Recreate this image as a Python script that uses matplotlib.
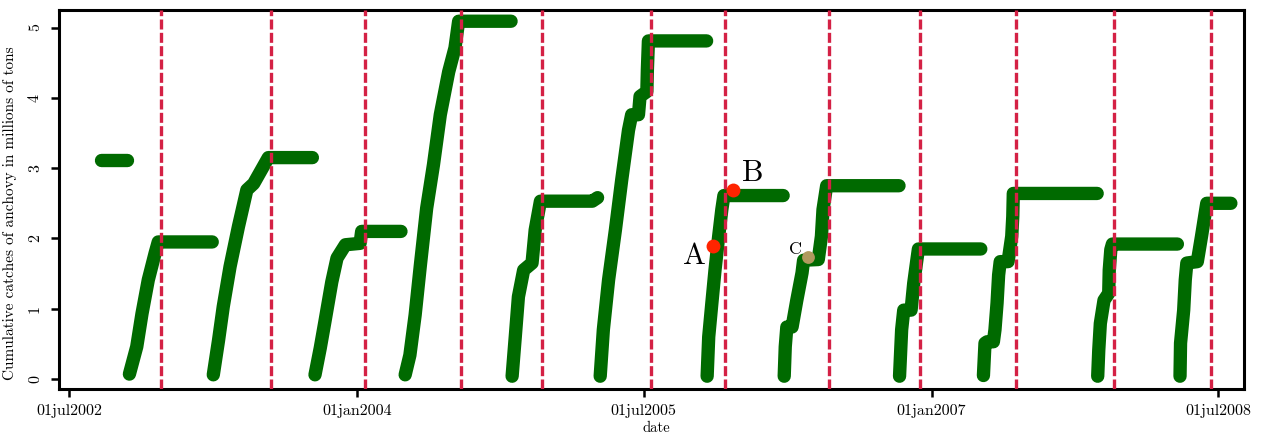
import matplotlib
matplotlib.use('Agg')
import matplotlib.pyplot as plt
import pandas as pd

plt.rcParams['font.family'] = ['cmr10', 'DejaVu Serif']
plt.rcParams['mathtext.fontset'] = 'cm'
plt.rcParams['axes.unicode_minus'] = False
plt.rcParams['axes.formatter.use_mathtext'] = True

# ---- cumulative catches per fishing season (millions of tons) ----
d1 = ["2002-08-31", "2002-10-19"]
v1 = [3.11, 3.11]

d2 = ["2002-10-24", "2002-11-07", "2002-11-17", "2002-11-29", "2002-12-12", "2002-12-18", "2003-03-31"]
v2 = [0.07, 0.46, 0.93, 1.41, 1.79, 1.95, 1.95]

d3 = ["2003-04-02", "2003-04-12", "2003-04-21", "2003-05-04", "2003-05-20", "2003-06-05", "2003-06-18",
      "2003-07-16", "2003-10-08"]
v3 = [0.06, 0.55, 1.03, 1.60, 2.17, 2.69, 2.78, 3.15, 3.15]

d4 = ["2003-10-13", "2003-10-23", "2003-11-01", "2003-11-14", "2003-11-24", "2003-12-10", "2004-01-07",
      "2004-01-10", "2004-03-25"]
v4 = [0.06, 0.44, 0.82, 1.38, 1.72, 1.91, 1.93, 2.10, 2.10]

d5 = ["2004-04-02", "2004-04-11", "2004-04-21", "2004-05-01", "2004-05-13", "2004-05-26", "2004-06-08",
      "2004-06-24", "2004-07-06", "2004-07-13", "2004-10-21"]
v5 = [0.06, 0.34, 0.91, 1.62, 2.43, 3.05, 3.76, 4.37, 4.71, 5.09, 5.09]

d6 = ["2004-10-23", "2004-10-29", "2004-11-04", "2004-11-14", "2004-11-30", "2004-12-06", "2004-12-16",
      "2005-03-25", "2005-04-04"]
v6 = [0.04, 0.60, 1.17, 1.55, 1.65, 2.12, 2.53, 2.53, 2.58]

d7 = ["2005-04-09", "2005-04-15", "2005-04-25", "2005-05-08", "2005-05-20", "2005-06-02", "2005-06-08",
      "2005-06-21", "2005-06-24", "2005-07-07", "2005-07-08", "2005-07-10", "2005-10-29"]
v7 = [0.04, 0.70, 1.41, 2.12, 2.83, 3.54, 3.76, 3.76, 4.02, 4.09, 4.40, 4.81, 4.81]

d8 = ["2005-10-30", "2005-11-02", "2005-11-08", "2005-11-14", "2005-11-21", "2005-11-27", "2005-12-01",
      "2006-03-24"]
v8 = [0.04, 0.60, 1.08, 1.55, 2.03, 2.41, 2.61, 2.61]

d9 = ["2006-03-26", "2006-03-28", "2006-03-31", "2006-04-10", "2006-04-19", "2006-04-29", "2006-05-02",
      "2006-05-30", "2006-06-05", "2006-06-08", "2006-06-15", "2006-10-31"]
v9 = [0.04, 0.46, 0.74, 0.74, 1.12, 1.51, 1.69, 1.70, 2.03, 2.41, 2.75, 2.75]

d10 = ["2006-11-01", "2006-11-05", "2006-11-09", "2006-11-23", "2006-11-28", "2006-12-04", "2006-12-07",
       "2007-04-05"]
v10 = [0.04, 0.70, 0.98, 0.98, 1.36, 1.69, 1.85, 1.85]

d11 = ["2007-04-10", "2007-04-13", "2007-04-17", "2007-04-29", "2007-05-02", "2007-05-06", "2007-05-09",
       "2007-05-12", "2007-05-27", "2007-06-03", "2007-06-05", "2007-06-06", "2007-11-13"]
v11 = [0.05, 0.51, 0.53, 0.53, 0.70, 1.08, 1.48, 1.67, 1.67, 2.03, 2.31, 2.64, 2.64]

d12 = ["2007-11-14", "2007-11-16", "2007-11-19", "2007-11-26", "2007-12-05", "2007-12-06", "2007-12-09",
       "2007-12-12", "2008-04-14"]
v12 = [0.04, 0.41, 0.79, 1.12, 1.22, 1.55, 1.84, 1.92, 1.92]

d13 = ["2008-04-19", "2008-04-20", "2008-04-26", "2008-04-29", "2008-05-02", "2008-05-22", "2008-05-30",
       "2008-06-06", "2008-06-09", "2008-07-25"]
v13 = [0.04, 0.51, 0.98, 1.41, 1.65, 1.67, 2.03, 2.36, 2.50, 2.50]

season_dates = [d1, d2, d3, d4, d5, d6, d7, d8, d9, d10, d11, d12, d13]
season_vals = [v1, v2, v3, v4, v5, v6, v7, v8, v9, v10, v11, v12, v13]

# season closing dates (red dashed lines)
closures = ["2002-12-23", "2003-07-21", "2004-01-16", "2004-07-17", "2004-12-19", "2005-07-14",
            "2005-12-03", "2006-06-19", "2006-12-10", "2007-06-11", "2007-12-15", "2008-06-17"]

# highlighted points
pt_labels = ["A", "B", "C"]
pt_dates = ["2005-11-11", "2005-12-19", "2006-05-11"]
pt_vals = [1.89, 2.69, 1.73]

xtick_dates = ["2002-07-01", "2004-01-01", "2005-07-01", "2007-01-01", "2008-07-01"]
xtick_labels = ["01jul2002", "01jan2004", "01jul2005", "01jan2007", "01jul2008"]
ytick_vals = [0, 1, 2, 3, 4, 5]

# ---- figure ----
fig = plt.figure(figsize=(12.61, 4.36), dpi=100)
ax = fig.add_axes([0.0465, 0.1078, 0.9400, 0.8693])

green = '#006a00'
for d, v in zip(season_dates, season_vals):
    ax.plot(pd.to_datetime(d), v, color=green, lw=9.6, solid_capstyle='round',
            solid_joinstyle='round', zorder=2)

for c in closures:
    ax.axvline(pd.Timestamp(c), color='#d42145', lw=2.4, ls=(0, (3.0, 1.0)), zorder=3)

pd_pts = pd.to_datetime(pt_dates)
ax.scatter(pd_pts[:2], pt_vals[:2], s=100, color='#ff2400', zorder=5, linewidths=0)
ax.scatter(pd_pts[2:], pt_vals[2:], s=85, color='#b09a5e', zorder=5, linewidths=0)
offsets = [(-14, -7), (14, 12), (-9, 6)]
sizes = [22, 22, 13]
for lab, x, y, off, fs in zip(pt_labels, pd_pts, pt_vals, offsets, sizes):
    ax.annotate(lab, xy=(x, y), xytext=off, textcoords='offset points',
                ha='center', va='center', fontsize=fs, zorder=6)

ax.set_xlim(pd.Timestamp("2002-06-11"), pd.Timestamp("2008-08-19"))
ax.set_ylim(-0.142, 5.25)

ax.set_xticks(pd.to_datetime(xtick_dates))
ax.set_xticklabels(xtick_labels)
ax.set_yticks(ytick_vals)
ax.set_yticklabels([str(t) for t in ytick_vals], rotation=90, va='center')

ax.tick_params(axis='both', direction='out', length=6, width=1.8, labelsize=11.5)
ax.tick_params(axis='x', pad=5)
ax.tick_params(axis='y', pad=6)
for s in ax.spines.values():
    s.set_linewidth(2.2)

ax.set_ylabel("Cumulative catches of anchovy in millions of tons", fontsize=11)
ax.yaxis.set_label_coords(-0.035, 0.464)
ax.set_xlabel("date", fontsize=10.5)
ax.xaxis.set_label_coords(0.504, -0.086)

fig.savefig("out.png", dpi=100)
